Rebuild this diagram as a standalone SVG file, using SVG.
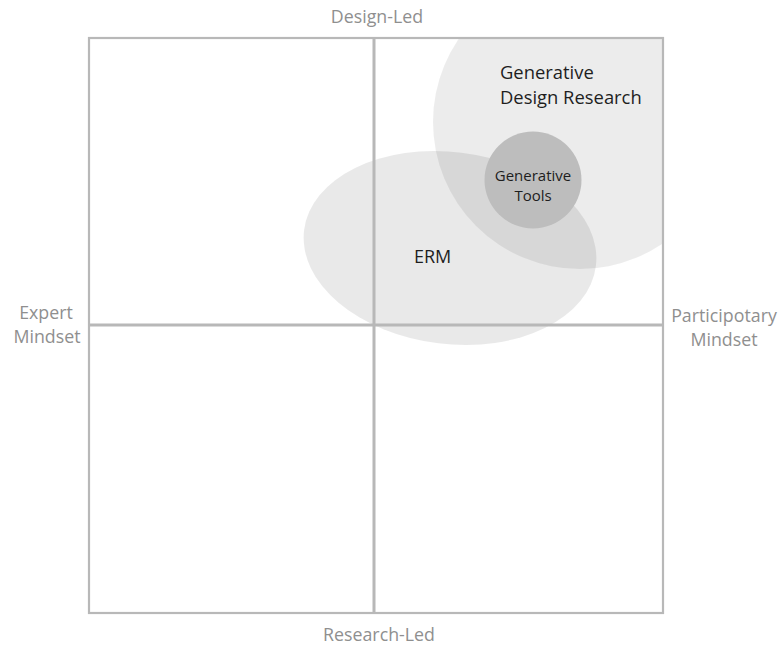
<svg xmlns="http://www.w3.org/2000/svg" width="781" height="646" viewBox="0 0 781 646">
  <style>
    .axis-label { font-family: "Open Sans", "Noto Sans", "Liberation Sans", sans-serif; font-size: 17.8px; fill: #8f8f8f; text-anchor: middle; }
    .region-label { font-family: "Open Sans", "Noto Sans", "Liberation Sans", sans-serif; fill: #1e1e1e; }
    .grid { stroke: #b8b8b8; fill: none; }
  </style>
  <defs>
    <clipPath id="frame-clip">
      <rect x="88" y="37" width="575" height="576"/>
    </clipPath>
  </defs>
  <rect width="781" height="646" fill="#ffffff"/>

  <!-- Overlapping regions -->
  <g clip-path="url(#frame-clip)">
    <g id="generative-design-research">
      <circle cx="580" cy="122" r="147" fill="#000000" fill-opacity="0.075"/>
    </g>
    <g id="erm">
      <ellipse cx="450" cy="248" rx="147" ry="96" transform="rotate(7 450 248)" fill="#000000" fill-opacity="0.085"/>
    </g>
    <g id="generative-tools">
      <circle cx="533" cy="180" r="48.5" fill="#bdbdbd"/>
    </g>
  </g>

  <!-- Quadrant frame and axes -->
  <g id="connectors">
    <rect class="grid" x="89" y="38" width="574" height="575" stroke-width="2.2"/>
    <line class="grid" x1="374" y1="38" x2="374" y2="613" stroke-width="3"/>
    <line class="grid" x1="89" y1="325" x2="663" y2="325" stroke-width="3"/>
  </g>

  <!-- Region labels -->
  <text class="region-label" font-size="18.4" x="500" y="79">Generative</text>
  <text class="region-label" font-size="18.4" x="500" y="104">Design Research</text>
  <text class="region-label" font-size="15" x="533" y="181" text-anchor="middle">Generative</text>
  <text class="region-label" font-size="15" x="533" y="201" text-anchor="middle">Tools</text>
  <text class="region-label" font-size="18" x="414" y="263">ERM</text>

  <!-- Axis labels -->
  <text class="axis-label" x="377" y="23">Design-Led</text>
  <text class="axis-label" x="379" y="641">Research-Led</text>
  <text class="axis-label" x="46" y="319">Expert</text>
  <text class="axis-label" x="47" y="343">Mindset</text>
  <text class="axis-label" x="724" y="322">Participotary</text>
  <text class="axis-label" x="724" y="346">Mindset</text>
</svg>
